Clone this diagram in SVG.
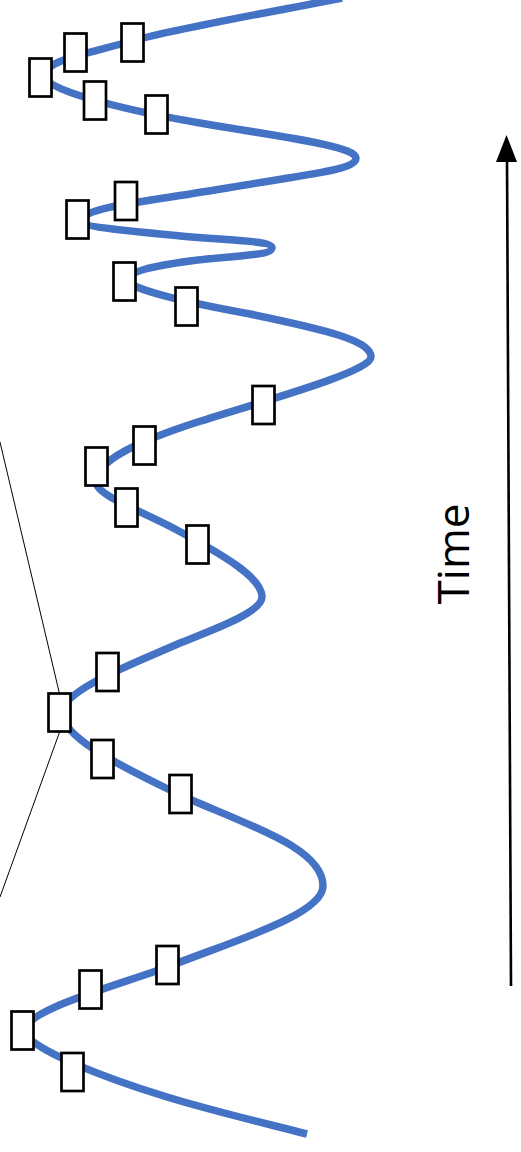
<svg xmlns="http://www.w3.org/2000/svg" width="521" height="1152" viewBox="0 0 521 1152">
<style>
.box{fill:#fff;stroke:#000;stroke-width:2.7}
.wave{fill:none;stroke:#4472C4;stroke-width:7.5;stroke-linecap:butt}
.thin{fill:none;stroke:#000;stroke-width:1}
.axis{fill:none;stroke:#000;stroke-width:2.6}
.label{font-family:"Open Sans","Noto Sans",sans-serif;font-size:44px;fill:#000}
</style>
<rect width="521" height="1152" fill="#fff"/>
<g id="connectors">
<path class="thin" d="M0,442 L65,717 L0,897"/>
<path class="wave" d="M342,-2 C250,16 170,30 132,41 C90,53 44,60 44,76 C44,88 110,107.7 200,123 C280,136.6 356,146 356,158 C356,170 310,173.9 230,187.5 C140,202.8 82,207 82,221 C82,226 110,229 160,234 C230,241.4 272,240 272,248 C272,256 230,255.5 190,261 C150,266.5 128,272 128,280 C128,288 175,300.3 250,314 C322,329 371,340 371,357 C371,372 260,402 200,421.3 C140,440.5 96,460 96,482 C96,495 140,510.3 175,529 C225,555.75 262,578 262,597 C262,612 215,629 180,643 C135,663 62,690 62,713 C62,740 135,772.5 180,795 C250,826 323,848 323,886 C323,915 230,942 170,966 C110,988 25,1010 25,1031 C25,1048 110,1079.6 167,1097 C215,1111.6 260,1122 307,1134"/>
</g>
<g id="n1"><rect class="box" x="29.5" y="58.5" width="22" height="38"/></g>
<g id="n2"><rect class="box" x="64.5" y="33.5" width="22" height="38"/></g>
<g id="n3"><rect class="box" x="121.5" y="23.5" width="22" height="38"/></g>
<g id="n4"><rect class="box" x="84" y="81.5" width="22" height="38"/></g>
<g id="n5"><rect class="box" x="145.5" y="95.5" width="22" height="38"/></g>
<g id="n6"><rect class="box" x="66.5" y="200.5" width="22" height="38"/></g>
<g id="n7"><rect class="box" x="115" y="182" width="22" height="38"/></g>
<g id="n8"><rect class="box" x="113.5" y="262.5" width="22" height="38"/></g>
<g id="n9"><rect class="box" x="175.5" y="287.5" width="22" height="38"/></g>
<g id="n10"><rect class="box" x="252.5" y="386" width="22" height="38"/></g>
<g id="n11"><rect class="box" x="133.5" y="426.5" width="22" height="38"/></g>
<g id="n12"><rect class="box" x="85.5" y="447.5" width="22" height="38"/></g>
<g id="n13"><rect class="box" x="115.5" y="488.5" width="22" height="38"/></g>
<g id="n14"><rect class="box" x="186.5" y="525.5" width="22" height="38"/></g>
<g id="n15"><rect class="box" x="96.5" y="653" width="22" height="38"/></g>
<g id="n16"><rect class="box" x="48.5" y="693.5" width="22" height="38"/></g>
<g id="n17"><rect class="box" x="91.5" y="740" width="22" height="38"/></g>
<g id="n18"><rect class="box" x="169.5" y="775" width="22" height="38"/></g>
<g id="n19"><rect class="box" x="156.5" y="946" width="22" height="38"/></g>
<g id="n20"><rect class="box" x="79.5" y="970.5" width="22" height="38"/></g>
<g id="n21"><rect class="box" x="11.5" y="1011.5" width="22" height="38"/></g>
<g id="n22"><rect class="box" x="61.5" y="1053" width="22" height="38"/></g>
<g id="time-axis">
<line class="axis" x1="511" y1="986" x2="507" y2="158"/>
<polygon points="506.5,135 496,162 517,162" fill="#000"/>
<text class="label" transform="translate(469,554) rotate(-90)" text-anchor="middle">Time</text>
</g>
</svg>
